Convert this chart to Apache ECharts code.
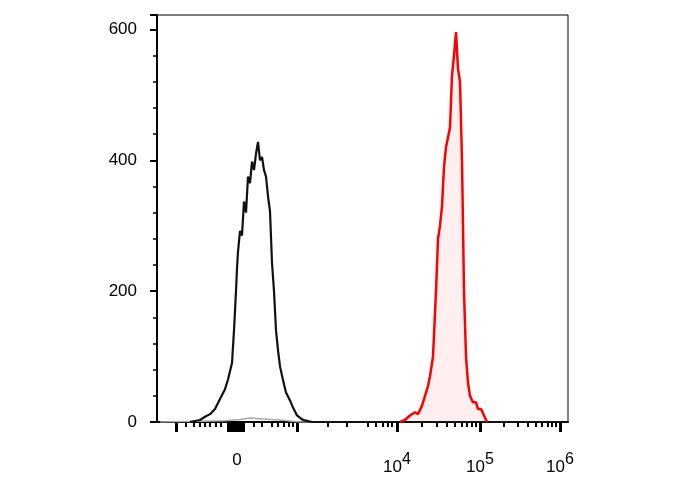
<!DOCTYPE html>
<html>
<head>
<meta charset="utf-8">
<script src="https://cdn.jsdelivr.net/npm/echarts@6/dist/echarts.min.js"></script>
<style>html,body{margin:0;background:#fff}#container{width:688px;height:490px}</style>
</head>
<body>
<div id="container"></div>
<script>
// x is in display channel units (biexponential scale laid out linearly)
var blackX = [190,200,205,210,215,220,225,228,232,234,236,237,238,240,242,244,246,248,250,252,254,256,258,260,262,264,266,268,270,272,274,276,278,280,283,286,290,293,297,302,306,312,320,560];
var blackY = [0,3,8,12,20,35,50,65,90,140,200,235,260,292,285,337,320,375,365,398,385,410,428,400,405,385,375,345,322,243,200,140,110,85,64,45,33,22,10,4,2,0,0,0];
var grayX = [160,225,240,250,260,270,280,300,560];
var grayY = [0,2,4,6,5,4,3,0,0];
var redX = [400,405,410,415,418,422,425,428,430,433,436,438,440,442,444,446,448,450,452,454,456,458,460,462,464,466,468,470,473,476,478,481,484,487];
var redY = [0,3,10,15,12,25,40,55,70,100,200,280,300,330,390,420,420,450,530,560,596,540,520,400,200,100,60,40,30,30,20,20,10,0];
var majorTicks = [176,228,231,234,237,240,243,297,397,480,560];
var minorTicks = [186,194,200,205,210,216,221,254,262,272,278,284,289,293,328,347,368,376,383,388,392,
  422,437,447,455,462,467,472,476,504,518,528,536,542,548,552,556];
var labelPos = [237,397,480,560];
var labelText = ['{z|0}','10{s|4}','10{s|5}','10{s|6}'];

function pairs(xs, ys) { return xs.map(function (x, i) { return [x, ys[i]]; }); }

var myChart = echarts.init(document.getElementById('container'));
var font = 'Liberation Sans, Arial, sans-serif';
var baseX = { type: 'value', min: 157, max: 568, position: 'bottom',
  splitLine: { show: false }, axisLine: { show: false } };
var option = {
  animation: false,
  grid: { left: 157, right: 120, top: 15, bottom: 68, show: true, borderColor: '#000', borderWidth: 1 },
  xAxis: [
    Object.assign({}, baseX, {
      axisLine: { show: true, lineStyle: { color: '#000', width: 2 } },
      axisTick: { show: true, length: 10, lineStyle: { color: '#000', width: 3 }, customValues: majorTicks },
      axisLabel: { margin: 30, fontFamily: font, fontSize: 17, color: '#000', customValues: labelPos,
        formatter: function (v) { return labelText[labelPos.indexOf(v)] || ''; },
        rich: {
          s: { fontSize: 16, verticalAlign: 'bottom', padding: [0, 0, 14, 0], fontFamily: font },
          z: { fontSize: 17, fontFamily: font, padding: [0, 0, 22, 0] }
        } }
    }),
    Object.assign({}, baseX, {
      axisTick: { show: true, length: 5, lineStyle: { color: '#000', width: 2 }, customValues: minorTicks },
      axisLabel: { show: false }
    })
  ],
  yAxis: {
    type: 'value', min: 0, max: 622, interval: 200,
    splitLine: { show: false },
    axisLine: { show: true, lineStyle: { color: '#000', width: 2 } },
    axisTick: { show: true, length: 7, lineStyle: { color: '#000', width: 2 } },
    minorTick: { show: true, splitNumber: 5, length: 4, lineStyle: { color: '#000', width: 1.5 } },
    axisLabel: { margin: 20, fontFamily: font, fontSize: 17, color: '#000', verticalAlign: 'middle', padding: [8, 0, 0, 0] }
  },
  series: [
    { type: 'line', data: pairs(grayX, grayY), symbol: 'none', lineStyle: { color: '#aaa', width: 1.5 } },
    { type: 'line', data: pairs(blackX, blackY), symbol: 'none', lineStyle: { color: '#111', width: 2.2 } },
    { type: 'line', data: pairs(redX, redY), symbol: 'none', lineStyle: { color: '#ff0000', width: 2.5 },
      areaStyle: { color: 'rgba(255,0,0,0.09)' } }
  ]
};
myChart.setOption(option);
</script>
</body>
</html>
